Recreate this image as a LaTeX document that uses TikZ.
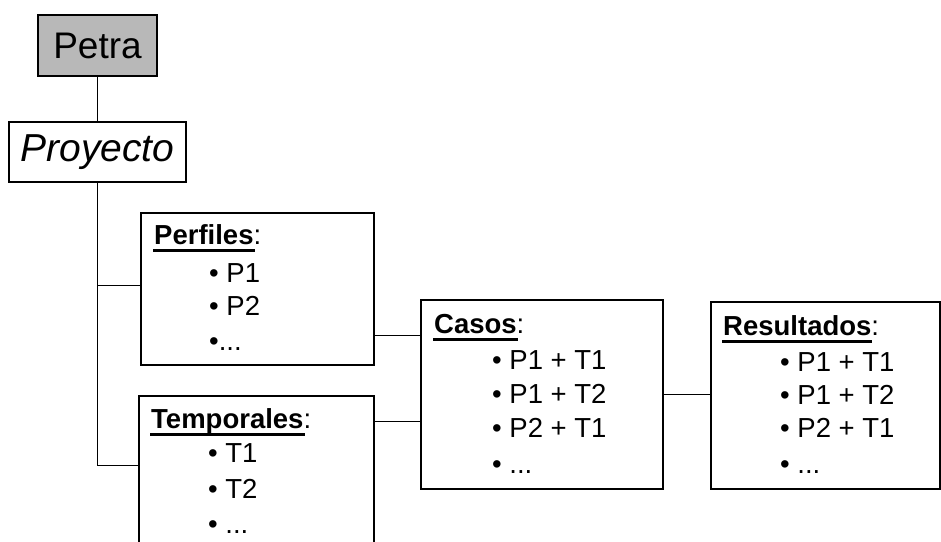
\documentclass[tikz,border=0pt]{standalone}
\usepackage{fontspec}
\setmainfont{Liberation Sans}
\usetikzlibrary{calc}
\newcommand\myul[1]{\setbox0\hbox{\textbf{#1}}\rlap{\kern-1pt\rule[-8pt]{\dimexpr\wd0+2pt\relax}{3.5pt}}\box0}
\definecolor{petragray}{RGB}{184,184,184}
\tikzset{
  box/.style={draw=black, line width=1.1pt, rectangle, inner sep=0pt, outer sep=0pt},
  conn/.style={draw=black, line width=0.9pt},
  txt/.style={anchor=base west, inner sep=0pt, font=\fontsize{27.5}{30}\selectfont},
}
\begin{document}
\begin{tikzpicture}[x=1pt,y=-1pt]
\useasboundingbox (0,0) rectangle (941,541);
\clip (0,0) rectangle (941,541);
\fill[white] (0,0) rectangle (941,541);
% boxes
\node[box, fill=petragray, minimum width=119pt, minimum height=61pt,
      font=\fontsize{37}{40}\selectfont] (petra) at (97.5,45.5) {Petra};
\node[box, fill=white, minimum width=177pt, minimum height=60pt,
      font=\fontsize{39}{42}\selectfont\itshape] (proy) at (97.5,152) {Proyecto};
\node[box, minimum width=233pt, minimum height=152pt] (perf) at (257.5,289) {};
\node[box, minimum width=235pt, minimum height=204pt] (temp) at (256.5,498) {};
\node[box, minimum width=242pt, minimum height=189pt] (casos) at (542,394.5) {};
\node[box, minimum width=229pt, minimum height=187pt] (res) at (825.5,395.5) {};
% connectors
\draw[conn] (petra.south) -- (proy.north);
\coordinate (pb) at ($(perf.west)+(0,-4)$);
\coordinate (tb) at ($(temp.north west)+(0,69)$);
\draw[conn] (proy.south) |- (tb);
\draw[conn] (proy.south |- pb) -- (pb);
\coordinate (pc) at ($(perf.east)+(0,46)$);
\draw[conn] (pc) -- (pc -| casos.west);
\coordinate (tc) at ($(temp.north east)+(0,25)$);
\draw[conn] (tc) -- (tc -| casos.west);
\draw[conn] (casos.east) -- (casos.east -| res.west);
% Perfiles
\node[txt] (perfh) at (154,244) {\myul{Perfiles}:};
\node[txt] (perf1) at (209,282) {• P1};
\node[txt] (perf2) at (209,315) {• P2};
\node[txt] (perf3) at (209,350) {•...};
% Temporales
\node[txt] (temph) at (151,428) {\myul{Temporales}:};
\node[txt] (temp1) at (208,462) {• T1};
\node[txt] (temp2) at (208,498) {• T2};
\node[txt] (temp3) at (208,533) {• ...};
% Casos
\node[txt] (cash) at (434,333) {\myul{Casos}:};
\node[txt] (cas1) at (492,369) {• P1 + T1};
\node[txt] (cas2) at (492,403) {• P1 + T2};
\node[txt] (cas3) at (492,437) {• P2 + T1};
\node[txt] (cas4) at (492,473) {• ...};
% Resultados
\node[txt] (resh) at (723,335) {\myul{Resultados}:};
\node[txt] (res1) at (780,371) {• P1 + T1};
\node[txt] (res2) at (780,404) {• P1 + T2};
\node[txt] (res3) at (780,437) {• P2 + T1};
\node[txt] (res4) at (780,473) {• ...};
\end{tikzpicture}
\end{document}
